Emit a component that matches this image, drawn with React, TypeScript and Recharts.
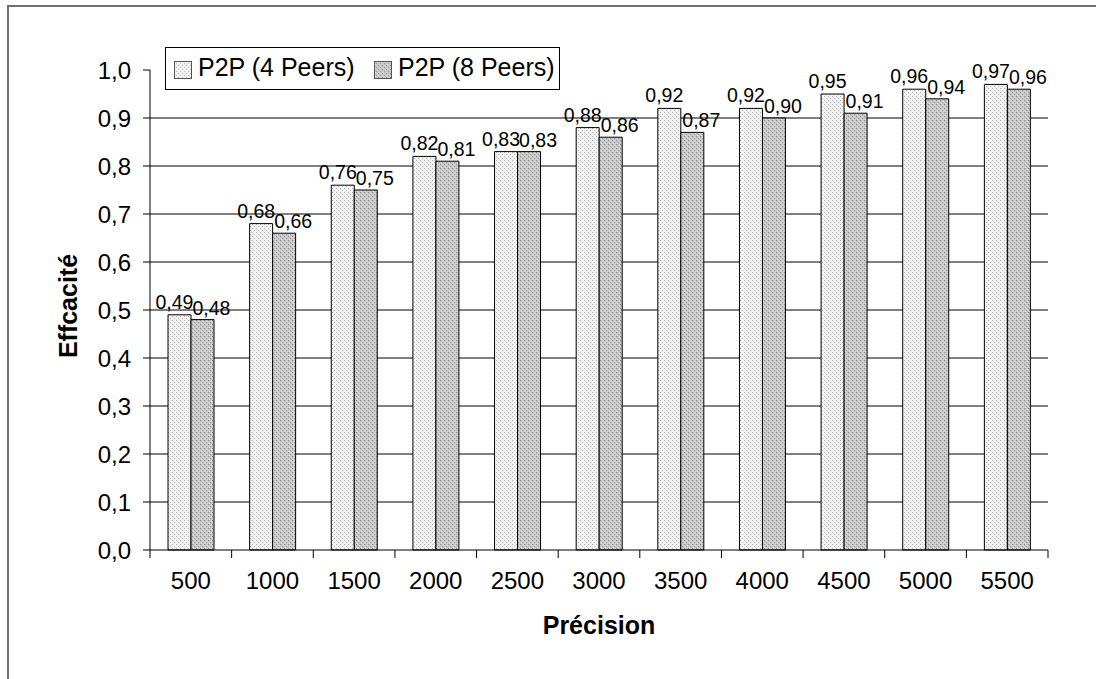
import React from "react"
import { Bar, BarChart, CartesianGrid, LabelList, Label, XAxis, YAxis } from "recharts"

const categories = ["500", "1000", "1500", "2000", "2500", "3000", "3500", "4000", "4500", "5000", "5500"]
const peers4 = [0.49, 0.68, 0.76, 0.82, 0.83, 0.88, 0.92, 0.92, 0.95, 0.96, 0.97]
const peers8 = [0.48, 0.66, 0.75, 0.81, 0.83, 0.86, 0.87, 0.9, 0.91, 0.94, 0.96]
const yTicks = [0, 0.1, 0.2, 0.3, 0.4, 0.5, 0.6, 0.7, 0.8, 0.9, 1.0]
const gridValues = [0.1, 0.2, 0.3, 0.4, 0.5, 0.6, 0.7, 0.8, 0.9]
const seriesNames = ["P2P (4 Peers)", "P2P (8 Peers)"]

const data = categories.map((name, i) => ({ name, p4: peers4[i], p8: peers8[i] }))

const FONT = '"Liberation Sans", Arial, sans-serif'
const comma = (v: number, d: number) => v.toFixed(d).replace(".", ",")

function Patterns() {
  return (
    <svg width={0} height={0} style={{ position: "absolute" }}>
      <defs>
        <pattern id="fill4" width={4} height={4} patternUnits="userSpaceOnUse">
          <rect width={4} height={4} fill="#f1f1f1" />
          <rect x={0} y={0} width={1} height={1} fill="#b0b0b0" />
          <rect x={2} y={2} width={1} height={1} fill="#bebebe" />
          <rect x={3} y={0} width={1} height={1} fill="#ffffff" />
        </pattern>
        <pattern id="fill8" width={4} height={4} patternUnits="userSpaceOnUse">
          <rect width={4} height={4} fill="#c6c6c6" />
          <rect x={0} y={0} width={1} height={1} fill="#8c8c8c" />
          <rect x={2} y={2} width={1} height={1} fill="#9a9a9a" />
          <rect x={1} y={3} width={1} height={1} fill="#e6e6e6" />
          <rect x={3} y={1} width={1} height={1} fill="#e0e0e0" />
        </pattern>
      </defs>
    </svg>
  )
}

const valueLabel = (dx: number, gap: number) => (props: any) => {
  const { x, y, width, value } = props
  return (
    <text
      x={Number(x) + Number(width) / 2 + dx}
      y={Number(y) - gap}
      textAnchor="middle"
      fontFamily={FONT}
      fontSize={19.5}
      fill="#000"
    >
      {comma(Number(value), 2)}
    </text>
  )
}

function XTick(props: any) {
  const { x, y, payload, index } = props
  const half = payload && payload.offset ? payload.offset : 40.8
  return (
    <g>
      <line x1={x - half} x2={x - half} y1={y} y2={y + 8} stroke="#000" />
      {index === categories.length - 1 && <line x1={x + half} x2={x + half} y1={y} y2={y + 8} stroke="#000" />}
      <text x={x} y={y + 39} textAnchor="middle" fontFamily={FONT} fontSize={24} fill="#000">
        {payload.value}
      </text>
    </g>
  )
}

function LegendBox() {
  const item = (left: number, fill: string, text: string) => (
    <>
      <svg width={18} height={18} style={{ position: "absolute", left, top: 13 }}>
        <rect x={0.5} y={0.5} width={17} height={17} fill={fill} stroke="#555" />
      </svg>
      <span style={{ position: "absolute", left: left + 24, top: 6, fontSize: 25, lineHeight: "26px" }}>
        {text}
      </span>
    </>
  )
  return (
    <div
      style={{
        position: "absolute",
        left: 165,
        top: 47,
        width: 393,
        height: 41,
        border: "1px solid #000",
        background: "#fff",
        fontFamily: FONT,
        color: "#000",
        whiteSpace: "nowrap",
      }}
    >
      {item(8, "url(#fill4)", seriesNames[0])}
      {item(208, "url(#fill8)", seriesNames[1])}
    </div>
  )
}

export default function App() {
  return (
    <div style={{ position: "absolute", left: 0, top: 0, width: 1096, height: 679, overflow: "hidden", background: "#fff" }}>
      <Patterns />
      <div style={{ position: "absolute", left: 7, top: 5, width: 1200, height: 800, border: "2px solid #707070" }} />
      <div style={{ position: "absolute", left: 0, top: 0 }}>
        <BarChart
          width={1096}
          height={679}
          data={data}
          margin={{ top: 70, right: 48, left: 80, bottom: 69 }}
          barGap={0}
          barSize={23}
        >
          <CartesianGrid horizontal vertical={false} horizontalValues={gridValues} stroke="#000" />
          <XAxis
            dataKey="name"
            height={60}
            axisLine={{ stroke: "#000" }}
            tickLine={false}
            tickSize={0}
            tickMargin={0}
            tick={<XTick />}
            interval={0}
          >
            <Label
              content={() => (
                <text x={599} y={634} textAnchor="middle" fontFamily={FONT} fontSize={25} fontWeight="bold" fill="#000">
                  Précision
                </text>
              )}
            />
          </XAxis>
          <YAxis
            width={70}
            domain={[0, 1]}
            ticks={yTicks}
            interval={0}
            axisLine={{ stroke: "#000" }}
            tickLine={{ stroke: "#000" }}
            tickSize={7}
            tickMargin={12}
            tickFormatter={(v: number) => comma(v, 1)}
            tick={{ fill: "#000", fontFamily: FONT, fontSize: 24 }}
          >
            <Label
              content={() => (
                <text
                  x={77}
                  y={306}
                  transform="rotate(-90 77 306)"
                  textAnchor="middle"
                  fontFamily={FONT}
                  fontSize={25}
                  fontWeight="bold"
                  fill="#000"
                >
                  Effcacité
                </text>
              )}
            />
          </YAxis>
          <Bar dataKey="p4" name={seriesNames[0]} fill="url(#fill4)" stroke="#000" strokeWidth={1} isAnimationActive={false}>
            <LabelList dataKey="p4" content={valueLabel(-5, 6)} />
          </Bar>
          <Bar dataKey="p8" name={seriesNames[1]} fill="url(#fill8)" stroke="#000" strokeWidth={1} isAnimationActive={false}>
            <LabelList dataKey="p8" content={valueLabel(9, 5)} />
          </Bar>
        </BarChart>
      </div>
      <LegendBox />
    </div>
  )
}
